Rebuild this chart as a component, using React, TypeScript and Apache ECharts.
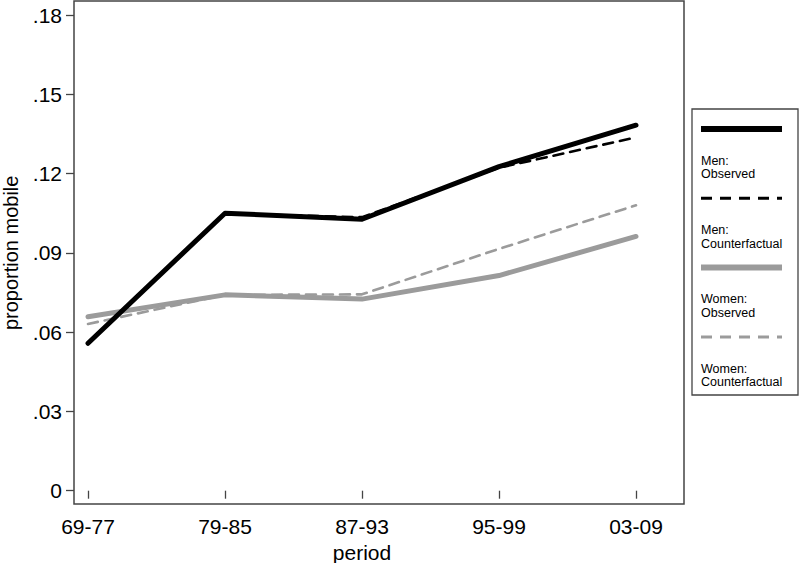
import React, { useEffect, useRef } from "react";
import * as echarts from "echarts";

const periods = ["69-77", "79-85", "87-93", "95-99", "03-09"];
const menObserved = [0.0558, 0.105, 0.1027, 0.1226, 0.1383];
const menCounterfactual = [0.0558, 0.1048, 0.1035, 0.1222, 0.1337];
const womenObserved = [0.0658, 0.0741, 0.0725, 0.0814, 0.0962];
const womenCounterfactual = [0.0631, 0.0741, 0.0743, 0.0915, 0.108];
const yTicks = [0, 0.03, 0.06, 0.09, 0.12, 0.15, 0.18];
const legendLabels = ["Men:\nObserved", "Men:\nCounterfactual", "Women:\nObserved", "Women:\nCounterfactual"];

const FONT = '"Liberation Sans", Arial, Helvetica, sans-serif';
const BLACK = "#000000";
const GRAY = "#9b9b9b";

export default function App() {
  const ref = useRef<HTMLDivElement>(null);
  useEffect(() => {
    if (!ref.current) return;
    const chart = echarts.init(ref.current, null, { renderer: "svg" });
    const styles = [
      { color: BLACK, width: 5, type: "solid" },
      { color: BLACK, width: 2.6, type: [10, 7] },
      { color: GRAY, width: 5, type: "solid" },
      { color: GRAY, width: 2.6, type: [10, 7] },
    ];
    const names = ["Men: Observed", "Men: Counterfactual", "Women: Observed", "Women: Counterfactual"];
    const datasets = [menObserved, menCounterfactual, womenObserved, womenCounterfactual];
    const drawOrder = [3, 2, 1, 0];

    const legendGraphics: any[] = [];
    legendGraphics.push({
      type: "rect",
      shape: { x: 692, y: 109, width: 106, height: 286 },
      style: { fill: "#fff", stroke: "#444", lineWidth: 1.3 },
    });
    legendLabels.forEach((lab, i) => {
      const ly = 129 + i * 69.3;
      const s = styles[i];
      legendGraphics.push({
        type: "line",
        shape: { x1: 701, y1: ly, x2: 782, y2: ly },
        style: {
          stroke: s.color,
          lineWidth: s.width === 5 ? 6 : 3,
          lineDash: Array.isArray(s.type) ? [11, 8] : null,
        },
      });
      legendGraphics.push({
        type: "text",
        x: 701,
        y: 154 + i * 69.3,
        style: {
          text: lab,
          font: `12.5px ${FONT}`,
          fill: "#000",
          lineHeight: 13.5,
          verticalAlign: "top",
          align: "left",
        },
      });
    });

    chart.setOption({
      animation: false,
      backgroundColor: "#fff",
      grid: { left: 88, right: 164, top: 15, bottom: 72.3, containLabel: false, outerBoundsMode: "none" },
      xAxis: {
        type: "category",
        data: periods,
        boundaryGap: false,
        offset: 13.3,
        name: "period",
        nameLocation: "middle",
        nameGap: 34,
        nameTextStyle: { fontSize: 21, fontFamily: FONT, color: "#000" },
        axisLine: { show: false },
        axisTick: { show: true, length: 8, alignWithLabel: true, lineStyle: { color: "#444", width: 1.3 } },
        axisLabel: { fontSize: 21, fontFamily: FONT, color: "#000", margin: 12 },
        splitLine: { show: false },
      },
      yAxis: {
        type: "value",
        min: 0,
        max: 0.18,
        interval: 0.03,
        offset: 14,
        name: "proportion mobile",
        nameLocation: "middle",
        nameGap: 53,
        nameRotate: 90,
        nameTextStyle: { fontSize: 20, fontFamily: FONT, color: "#000" },
        axisLine: { show: false },
        axisTick: { show: true, length: 8, lineStyle: { color: "#444", width: 1.3 } },
        axisLabel: {
          fontSize: 21,
          fontFamily: FONT,
          color: "#000",
          margin: 12,
          formatter: (v: number) => {
            const t = yTicks.find((x) => Math.abs(x - v) < 1e-9);
            const val = t === undefined ? v : t;
            return val === 0 ? "0" : val.toFixed(2).replace(/^0/, "");
          },
        },
        splitLine: { show: false },
      },
      series: drawOrder.map((i) => ({
        name: names[i],
        type: "line",
        data: datasets[i],
        symbol: "none",
        z: 10 - i,
        lineStyle: { color: styles[i].color, width: styles[i].width, type: styles[i].type as any, cap: "round", join: "round" },
      })),
      graphic: [
        {
          type: "rect",
          shape: { x: 74, y: 1, width: 610, height: 503 },
          style: { fill: "none", stroke: "#444", lineWidth: 1.5 },
          z: 100,
        },
        ...legendGraphics,
      ],
    });
    return () => chart.dispose();
  }, []);
  return <div ref={ref} style={{ width: 800, height: 563, position: "absolute", left: 0, top: 0 }} />;
}
